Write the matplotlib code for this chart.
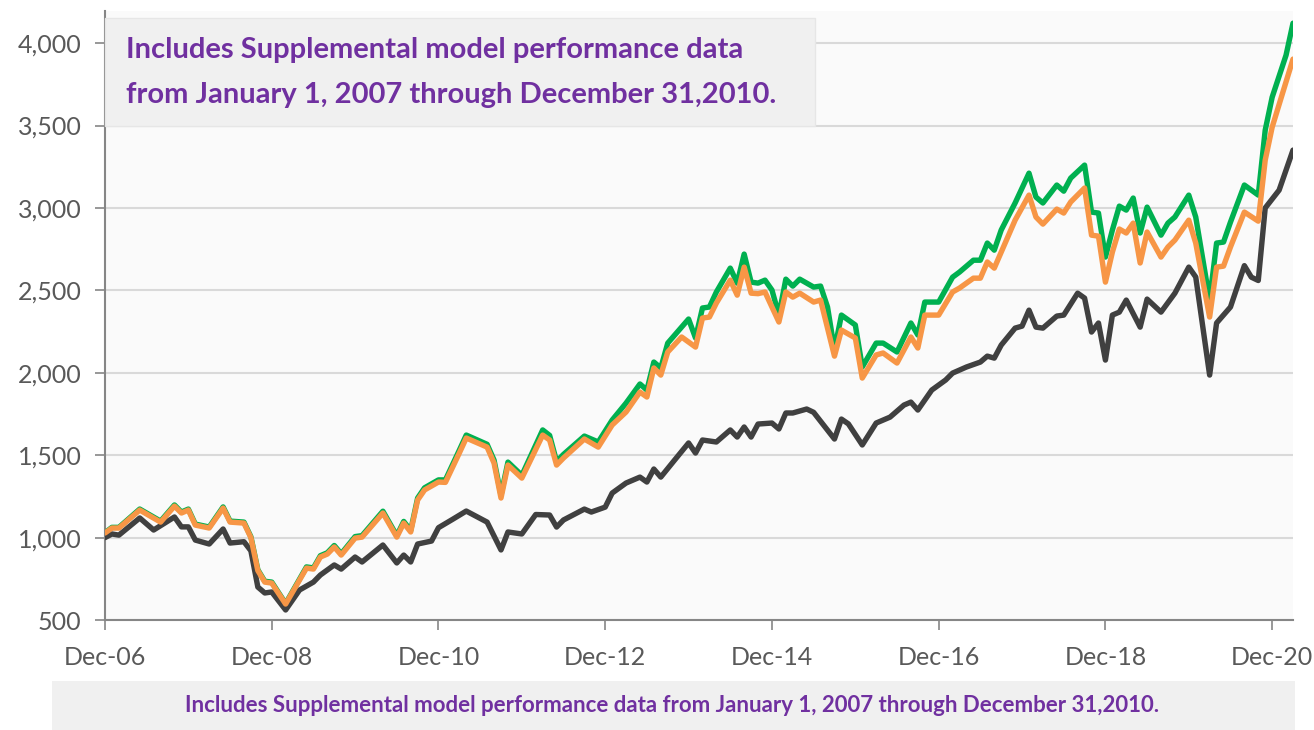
import matplotlib
matplotlib.use("Agg")
import matplotlib.pyplot as plt
from matplotlib.patches import Rectangle

# months after Dec-06
black_m = [0, 1, 2, 5, 7, 10, 11, 12, 13, 15, 17, 18, 20, 21, 22, 23, 24, 26, 28, 30, 31, 33, 34, 36, 37, 40,
           42, 43, 44, 45, 47, 48, 50, 52, 55, 57, 58, 60, 62, 64, 65, 66, 69, 70, 72, 73, 75, 77, 78, 79, 80,
           82, 84, 85, 86, 88, 90, 91, 92, 93, 94, 96, 97, 98, 99, 101, 102, 105, 106, 107, 109, 111, 113, 115,
           116, 117, 119, 121, 122, 124, 126, 127, 128, 129, 131, 132, 133, 134, 135, 137, 138, 140, 141, 142,
           143, 144, 145, 146, 147, 149, 150, 152, 154, 156, 157, 159, 160, 162, 164, 165, 166, 167, 169, 171]
black_v = [1000, 1022, 1015, 1119, 1046, 1125, 1065, 1065, 985, 961, 1052, 967, 975, 920, 700, 664, 670, 561, 682,
           730, 773, 834, 809, 882, 852, 955, 846, 894, 852, 961, 979, 1060, 1110, 1161, 1094, 925, 1034, 1022,
           1140, 1137, 1064, 1107, 1173, 1155, 1185, 1270, 1331, 1367, 1337, 1416, 1367, 1471, 1574, 1513, 1592,
           1580, 1653, 1610, 1671, 1610, 1689, 1695, 1659, 1756, 1756, 1780, 1760, 1598, 1719, 1690, 1562, 1695,
           1731, 1804, 1822, 1774, 1895, 1956, 1998, 2035, 2065, 2101, 2089, 2168, 2271, 2283, 2380, 2277, 2271,
           2344, 2350, 2483, 2453, 2247, 2302, 2077, 2350, 2368, 2441, 2277, 2447, 2368, 2483, 2641, 2581, 1986,
           2302, 2399, 2650, 2580, 2560, 3000, 3108, 3351]

orange_m = [0, 1, 2, 5, 8, 10, 11, 12, 13, 15, 17, 18, 20, 21, 22, 23, 24, 26, 29, 30, 31, 32, 33, 34, 36, 37,
            40, 42, 43, 44, 45, 46, 48, 49, 51, 52, 55, 56, 57, 58, 60, 63, 64, 65, 66, 69, 71, 73, 75, 77, 78,
            79, 80, 81, 83, 85, 86, 87, 88, 90, 91, 92, 93, 94, 95, 97, 98, 99, 100, 102, 103, 105, 106, 108,
            109, 111, 112, 114, 116, 117, 118, 120, 122, 123, 125, 126, 127, 128, 129, 131, 133, 134, 135, 137,
            138, 139, 141, 142, 143, 144, 145, 146, 147, 148, 149, 150, 152, 153, 154, 156, 157, 159, 160, 161,
            162, 164, 166, 167, 168, 171]
orange_v = [1028, 1058, 1058, 1167, 1094, 1191, 1149, 1167, 1076, 1058, 1179, 1094, 1088, 1000, 800, 730, 724,
            597, 815, 809, 882, 900, 943, 894, 997, 1003, 1149, 1003, 1088, 1034, 1228, 1289, 1337, 1335, 1513,
            1604, 1549, 1452, 1240, 1440, 1361, 1622, 1592, 1440, 1483, 1598, 1549, 1683, 1762, 1883, 1853, 2029,
            1986, 2126, 2217, 2156, 2332, 2338, 2423, 2562, 2471, 2641, 2483, 2480, 2490, 2308, 2490, 2459, 2483,
            2429, 2441, 2101, 2259, 2211, 1968, 2108, 2120, 2059, 2217, 2150, 2350, 2350, 2490, 2514, 2574, 2574,
            2672, 2635, 2732, 2926, 3078, 2945, 2902, 2993, 2969, 3036, 3121, 2835, 2829, 2550, 2732, 2872, 2848,
            2908, 2666, 2854, 2702, 2763, 2805, 2926, 2787, 2338, 2641, 2647, 2763, 2975, 2920, 3290, 3490, 3903]

green_m = [0, 1, 2, 5, 8, 10, 11, 12, 13, 15, 17, 18, 20, 21, 22, 23, 24, 26, 29, 30, 31, 32, 33, 34, 36, 37,
           40, 42, 43, 44, 45, 46, 48, 49, 51, 52, 55, 56, 57, 58, 60, 63, 64, 65, 66, 69, 71, 73, 75, 77, 78,
           79, 80, 81, 84, 85, 86, 87, 88, 90, 91, 92, 93, 94, 95, 96, 97, 98, 99, 100, 102, 103, 104, 105, 106,
           108, 109, 111, 112, 114, 116, 117, 118, 120, 122, 123, 125, 126, 127, 128, 129, 131, 133, 134, 135,
           137, 138, 139, 141, 142, 143, 144, 145, 146, 147, 148, 149, 150, 152, 153, 154, 156, 157, 159, 160,
           161, 162, 164, 166, 167, 168, 170, 171]
green_v = [1030, 1062, 1062, 1173, 1100, 1198, 1155, 1173, 1082, 1064, 1186, 1100, 1094, 1005, 805, 735, 730, 600,
           822, 816, 890, 908, 952, 902, 1006, 1012, 1160, 1012, 1098, 1043, 1240, 1302, 1350, 1350, 1530, 1622,
           1566, 1470, 1258, 1458, 1378, 1653, 1620, 1462, 1505, 1616, 1580, 1713, 1816, 1932, 1895, 2065, 2029,
           2180, 2326, 2211, 2393, 2399, 2490, 2635, 2544, 2720, 2550, 2544, 2562, 2502, 2350, 2568, 2526, 2568,
           2520, 2526, 2399, 2138, 2350, 2290, 2035, 2180, 2180, 2126, 2302, 2229, 2429, 2429, 2580, 2611, 2683,
           2683, 2787, 2744, 2866, 3030, 3211, 3066, 3030, 3139, 3102, 3181, 3260, 2975, 2969, 2702, 2866, 3011,
           2987, 3060, 2848, 3005, 2835, 2908, 2945, 3078, 2945, 2441, 2787, 2793, 2914, 3139, 3078, 3472, 3672,
           3927, 4121]

tick_months = [0, 24, 48, 72, 96, 120, 144, 168]
tick_labels = ["Dec-06", "Dec-08", "Dec-10", "Dec-12", "Dec-14", "Dec-16", "Dec-18", "Dec-20"]
y_ticks = [500, 1000, 1500, 2000, 2500, 3000, 3500, 4000]

note = "Includes Supplemental model performance data from January 1, 2007 through December 31,2010."
purple = "#7030a0"
grey_txt = "#595959"

plt.rcParams["font.family"] = ["Lato", "DejaVu Sans"]

fig = plt.figure(figsize=(13.14, 7.30), dpi=100)
ax = fig.add_axes([105 / 1314, 1 - 620 / 730, (1293 - 105) / 1314, (620 - 11) / 730])
ax.set_facecolor("#fafafa")

style = dict(lw=3.9, solid_joinstyle="round", solid_capstyle="round")
ax.plot(green_m, green_v, color="#00b050", zorder=3, **style)
ax.plot(black_m, black_v, color="#404040", zorder=4, **style)
ax.plot(orange_m, orange_v, color="#f79646", zorder=5, **style)

ax.set_xlim(0, 171)
ax.set_ylim(500, 4195)
ax.set_xticks(tick_months)
ax.set_xticklabels(tick_labels)
ax.set_yticks(y_ticks)
ax.set_yticklabels([f"{v:,}" for v in y_ticks])
ax.yaxis.grid(True, color="#d9d9d9", lw=1.5)
ax.set_axisbelow(True)
for s in ["top", "right"]:
    ax.spines[s].set_visible(False)
for s in ["left", "bottom"]:
    ax.spines[s].set_color("#868686")
    ax.spines[s].set_linewidth(1.5)
ax.tick_params(axis="both", direction="out", length=7, width=1.2, color="#868686",
               labelcolor=grey_txt, labelsize=18)
ax.tick_params(axis="x", pad=12)
ax.tick_params(axis="y", pad=10)

# top note box
fig.patches.append(Rectangle((105 / 1314, 1 - 126 / 730), (815 - 105) / 1314, (126 - 18) / 730,
                             transform=fig.transFigure, facecolor="#f0f0f0", edgecolor="#e6e6e6", lw=1, zorder=6))
fig.text(126 / 1314, 1 - 50 / 730, "Includes Supplemental model performance data", color=purple,
         fontsize=21, fontweight="bold", va="center", ha="left", zorder=7)
fig.text(126 / 1314, 1 - 95 / 730, "from January 1, 2007 through December 31,2010.", color=purple,
         fontsize=21, fontweight="bold", va="center", ha="left", zorder=7)

# bottom caption box
fig.patches.append(Rectangle((52 / 1314, 0), (1295 - 52) / 1314, (730 - 681) / 730,
                             transform=fig.transFigure, facecolor="#f0f0f0", edgecolor="none", zorder=6))
fig.text(672 / 1314, 1 - 706 / 730, note, color=purple, fontsize=16, fontweight="bold",
         va="center", ha="center", zorder=7)

fig.savefig("out.png", dpi=100)
